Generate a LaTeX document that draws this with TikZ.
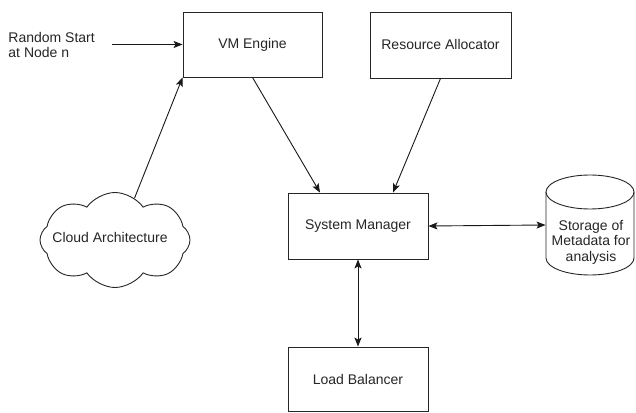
\documentclass[tikz,border=0pt]{standalone}
\usepackage{fontspec}
\setmainfont{Liberation Sans}
\usetikzlibrary{arrows.meta,shapes.symbols,calc}
\begin{document}
\begin{tikzpicture}[x=1pt,y=1pt,
  font=\fontsize{14}{15.5}\selectfont,
  line width=0.9pt,
  every node/.style={text=black!85},
  box/.style={draw=black!85,rectangle,inner sep=0pt},
  tip/.tip={Stealth[length=9pt,width=7pt,inset=2pt]},
  arr/.style={-tip,draw=black!90},
  biarr/.style={tip-tip,draw=black!90}]
\useasboundingbox (0,0) rectangle (636,412);
\fill[white] (0,0) rectangle (636,412);
% boxes
\node[box,minimum width=139pt,minimum height=65pt] (vm) at (252.5,367.5) {VM Engine};
\node[box,minimum width=141pt,minimum height=66pt] (ra) at (440.5,367) {Resource Allocator};
\node[box,minimum width=140pt,minimum height=66pt] (sm) at (358,186) {System Manager};
\node[box,minimum width=140pt,minimum height=64pt] (lb) at (358,33) {Load Balancer};
% cloud
\node[cloud,draw=black!85,cloud puffs=8,cloud puff arc=110,aspect=1.6,minimum width=150pt,minimum height=95pt,inner sep=0pt] (cloud) at (115,172) {};
\node (cloudtxt) at (110,175) {Cloud Architecture};
% storage cylinder
\node[inner sep=0pt,minimum width=88pt,minimum height=100pt] (st) at (590,187) {};
\draw[black!85] (546,220) -- (546,154) arc[start angle=180,end angle=360,x radius=44pt,y radius=17pt] -- (634,220);
\draw[black!85] (590,220) ellipse [x radius=44pt,y radius=17pt];
\node[align=center,inner sep=0pt] (sttxt) at (591,170) {Storage of\\Metadata for\\analysis};
% random start
\node[align=left,anchor=west,inner sep=0pt] (rs) at (8,367) {Random Start\\at Node n};
\coordinate (rsend) at (112,367.5);
% connectors
\draw[arr] (rsend) -- (vm.west);
\draw[arr] (cloud.65) -- (vm.south west);
\draw[arr] (vm.south) -- ([xshift=-38pt]sm.north);
\draw[arr] (ra.south) -- ([xshift=35pt]sm.north);
\draw[biarr] (sm.east) -- (st.west);
\draw[biarr] (sm.south) -- (lb.north);
\end{tikzpicture}
\end{document}
